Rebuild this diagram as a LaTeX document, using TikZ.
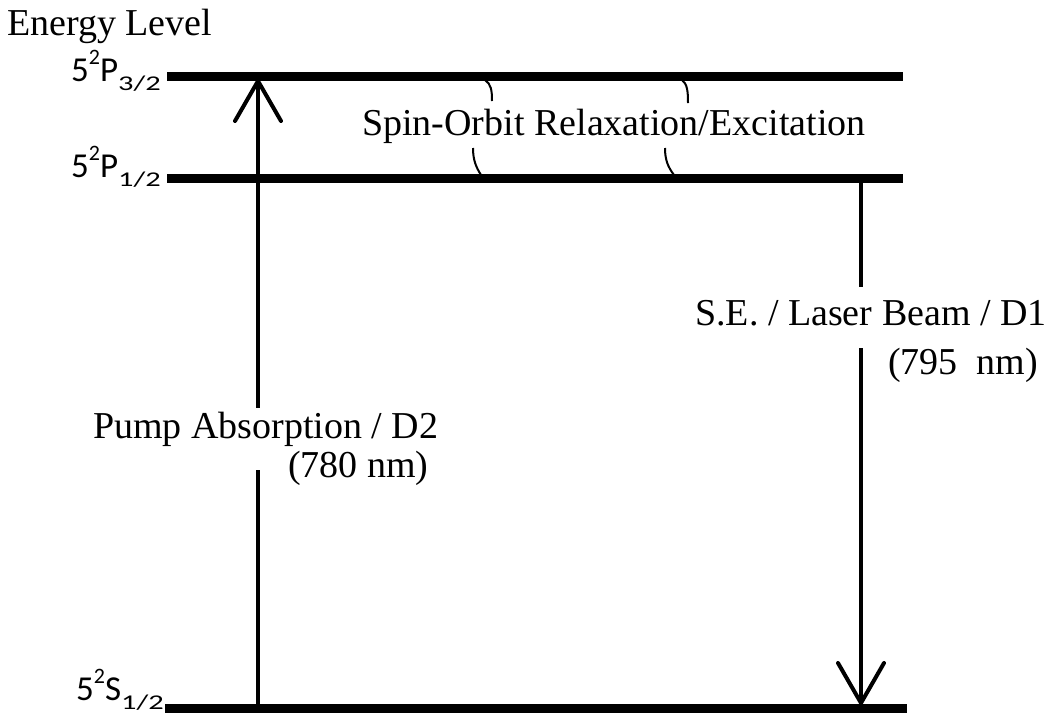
\documentclass[tikz,border=0pt]{standalone}
\usepackage{fontspec}
\usepackage{graphicx}
\setmainfont{Liberation Serif}
\newfontfamily\sansw{Carlito}
\usetikzlibrary{arrows.meta}
\newcommand{\lvlabel}[2]{{\sansw\fontsize{35}{35}\selectfont 5\raisebox{17pt}{\fontsize{22}{22}\selectfont 2}#1\raisebox{-9pt}{\scalebox{1.45}[1]{\fontsize{21}{21}\selectfont #2}}}}
\begin{document}
\begin{tikzpicture}[x=1pt,y=-1pt,
  level/.style={line width=9pt},
  trans/.style={line width=4pt, -{Straight Barb[length=40pt,width=46pt,round]}},
  wavy/.style={line width=2pt},
  lab/.style={font=\fontsize{38}{40}\selectfont, inner sep=0pt, anchor=base west},
  term/.style={inner sep=0pt, anchor=base west}]
\useasboundingbox (0,0) rectangle (1050,724);
% level ends
\coordinate (p3L) at (167,76.5);
\coordinate (p3R) at (903,76.5);
\coordinate (p1L) at (167,178.5);
\coordinate (p1R) at (903,178.5);
\coordinate (sL) at (165,708.5);
\coordinate (sR) at (907,708.5);
\draw[level] (p3L) -- (p3R);
\draw[level] (p1L) -- (p1R);
\draw[level] (sL) -- (sR);
% transitions
\coordinate (pumpA) at (258,708);
\coordinate (pumpB) at (258,79);
\coordinate (seA) at (861,178);
\coordinate (seB) at (861,705);
\draw[trans] (pumpA) -- (pumpB);
\draw[trans] (seA) -- (seB);
% spin-orbit ticks
\coordinate (w1a) at (485,80);  \coordinate (w1b) at (492,101);
\coordinate (w2a) at (682,80);  \coordinate (w2b) at (688,103);
\coordinate (w3a) at (473,148); \coordinate (w3b) at (481,175);
\coordinate (w4a) at (665,148); \coordinate (w4b) at (674,175);
\draw[wavy] (w1a) .. controls (491,84) and (492,90) .. (w1b);
\draw[wavy] (w2a) .. controls (687,84) and (688,90) .. (w2b);
\draw[wavy] (w3a) .. controls (473,160) and (476,167) .. (w3b);
\draw[wavy] (w4a) .. controls (665,160) and (668,167) .. (w4b);
% labels
\node[lab] (energy) at (7,35) {Energy Level};
\node[term] (t3) at (71,81) {\lvlabel{P}{3/2}};
\node[term] (t1) at (71,177) {\lvlabel{P}{1/2}};
\node[term] (t0) at (76,700) {\lvlabel{S}{1/2}};
\node[lab] (so) at (362,135) {Spin-Orbit Relaxation/Excitation};
\node[lab, fill=white, text height=38pt, text depth=23pt] (se) at (695,325) {S.E. / Laser Beam / D1};
\node[lab] (se2) at (888,374) {(795\ \ nm)};
\node[lab, fill=white, text height=30pt, text depth=32pt] (pump) at (93,438) {Pump Absorption / D2};
\node[lab] (pump2) at (288,477) {(780 nm)};
\end{tikzpicture}
\end{document}
